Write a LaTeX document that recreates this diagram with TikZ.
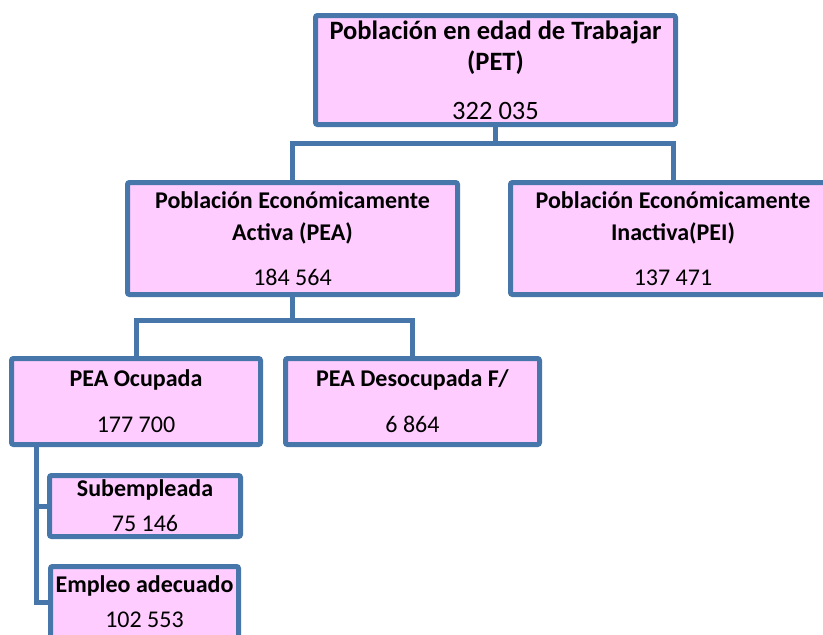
\documentclass[tikz,border=0pt]{standalone}
\usepackage{fontspec}
\setmainfont{Carlito}
\usetikzlibrary{positioning}

\definecolor{bordeazul}{RGB}{71,118,171}
\definecolor{rosa}{RGB}{255,204,255}

\begin{document}
\begin{tikzpicture}[x=1pt,y=-1pt,on grid,
   caja/.style={draw=bordeazul,fill=rosa,line width=5pt,rounded corners=2pt,
                align=center,inner sep=0pt,font=\fontsize{24}{32}\selectfont},
   conector/.style={draw=bordeazul,line width=5pt}]
   \useasboundingbox (0,0) rectangle (823,635);
   \clip (0,0) rectangle (823,635);

   \node[caja,minimum width=360pt,minimum height=109pt,font=\fontsize{26.5}{31}\selectfont]
      (pet) at (495.5,70) {\textbf{Población en edad de Trabajar}\\\textbf{(PET)}\\[18pt]322 035};
   \node[caja,minimum width=330pt,minimum height=112pt] (pea) [below left=168.5pt and 203pt of pet]
      {\textbf{Población Económicamente}\\\textbf{Activa (PEA)}\\[12.5pt]184 564};
   \node[caja,minimum width=325pt,minimum height=112pt] (pei) [below right=168.5pt and 177.5pt of pet]
      {\textbf{Población Económicamente}\\\textbf{Inactiva(PEI)}\\[12.5pt]137 471};
   \node[caja,minimum width=249pt,minimum height=86pt] (ocu) [below left=163pt and 156.5pt of pea]
      {\textbf{PEA Ocupada}\\[14pt]177 700};
   \node[caja,minimum width=254pt,minimum height=86pt] (des) [below right=163pt and 120pt of pea]
      {\textbf{PEA Desocupada F/}\\[14pt]6 864};
   \node[caja,minimum width=191pt,minimum height=61pt] (sub) [below right=104.5pt and 9pt of ocu]
      {\textbf{Subempleada}\\[3pt]75 146};
   \node[caja,minimum width=188pt,minimum height=71pt] (emp) [below right=200.5pt and 8.5pt of ocu]
      {\textbf{Empleo adecuado}\\[3pt]102 553};

   \coordinate (bus1) at (495.5,143);
   \coordinate (bus2) at (292.5,320);
   \coordinate (tronco) at (36,444.5);

   \draw[conector] (pet) -- (bus1);
   \draw[conector] (pea.north) |- (bus1) -| (pei.north);
   \draw[conector] (pea) -- (bus2);
   \draw[conector] (ocu.north) |- (bus2) -| (des.north);
   \draw[conector] (tronco) |- (sub.west);
   \draw[conector] (tronco) |- (emp.west);
\end{tikzpicture}
\end{document}
